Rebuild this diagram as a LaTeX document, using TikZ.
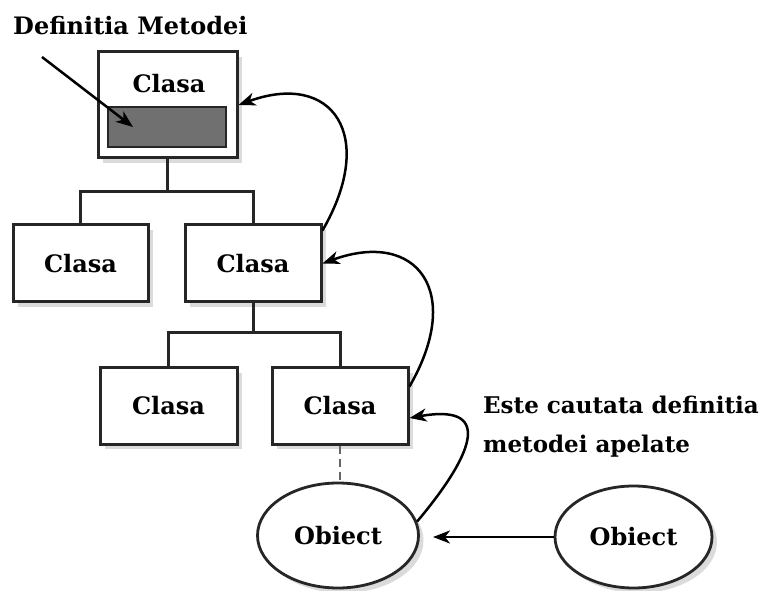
\documentclass[tikz,border=0pt]{standalone}
\usepackage{fontspec}
\setmainfont{DejaVu Serif}
\usetikzlibrary{arrows.meta,shapes.geometric,shadows}
\begin{document}
\begin{tikzpicture}[x=1pt,y=1pt,
  font=\fontsize{24}{30}\selectfont\bfseries,
  softshadow/.style={drop shadow={shadow xshift=5pt,shadow yshift=-5pt,fill=black!14,opacity=1}},
  cls/.style={draw=black!85,line width=3pt,fill=white,softshadow,inner sep=0pt},
  obj/.style={ellipse,draw=black!85,line width=2.8pt,fill=white,softshadow,inner sep=0pt},
  link/.style={draw=black!85,line width=3pt},
  call/.style={draw=black,line width=2.5pt,-{Stealth[length=17pt,width=13pt,inset=5pt]}},
  txt/.style={inner sep=0pt,anchor=base west},
  note/.style={txt,font=\fontsize{23}{30}\selectfont\bfseries}
]
\useasboundingbox (0,0) rectangle (769,590);

% class boxes
\node[cls,minimum width=139,minimum height=106] (top) at (167.5,485) {};
\node[inner sep=0pt] (toplbl) at (169,506) {Clasa};
\node[draw=black!85,line width=2.2pt,fill=black!56,minimum width=118,minimum height=40,inner sep=0pt] (meth) at (167,463) {};

\node[cls,minimum width=135,minimum height=77] (c1) at (80.5,326.5) {Clasa};
\node[cls,minimum width=136,minimum height=77] (c2) at (253,326.5) {Clasa};
\node[cls,minimum width=137,minimum height=76] (c3) at (168.5,184) {Clasa};
\node[cls,minimum width=136,minimum height=76] (c4) at (340,184) {Clasa};

% objects
\node[obj,minimum width=161,minimum height=105] (o1) at (338,54.5) {Obiect};
\node[obj,minimum width=157,minimum height=102] (o2) at (633.5,53) {Obiect};

% labels
\node[txt] (def) at (13,555) {Definitia Metodei};
\node[note] (q1) at (483,177) {Este cautata definitia};
\node[note] (q2) at (483,138) {metodei apelate};

% tree connectors
\coordinate (j1) at (167.5,398);
\coordinate (j2) at (253,257);
\draw[link] (top.south) -- (j1);
\draw[link] (c1.north) |- (j1) -| (c2.north);
\draw[link] (c2.south) -- (j2);
\draw[link] (c3.north) |- (j2) -| (c4.north);
\draw[draw=black!60,line width=2.6pt,dash pattern=on 8pt off 5pt] (c4.south) -- (c4.south |- o1.north);

% pointer to method definition
\coordinate (p1) at (42,533);
\coordinate (p2) at (133,463);
\draw[call] (p1) -- (p2);

% lookup arrows
\draw[call] ([yshift=-7pt]c2.north east) .. controls +(60:110) and +(20:100) .. (top.east);
\draw[call] ([yshift=-20pt]c4.north east) .. controls +(60:110) and +(20:100) .. (c2.east);
\draw[call] (o1.10) .. controls +(50:80) and +(10:90) .. ([yshift=-12pt]c4.east);

% message arrow
\coordinate (a1) at (433,53);
\draw[call] (o2.west) -- (a1);
\end{tikzpicture}
\end{document}
